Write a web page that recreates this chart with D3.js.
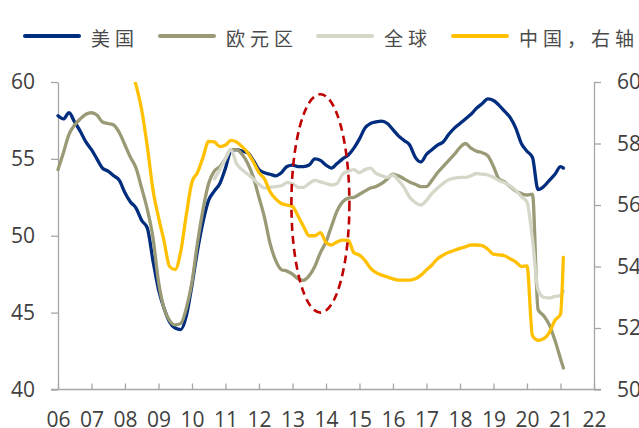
<!DOCTYPE html>
<html>
<head>
<meta charset="utf-8">
<script src="https://cdn.jsdelivr.net/npm/d3@7"></script>
<style>
  html, body { margin: 0; padding: 0; background: #fff; }
  svg { display: block; }
  .axis text { font-family: "Open Sans", "Liberation Sans", sans-serif; font-size: 21px; fill: #404040; }
  .axis line, .axis path { stroke: #a6a6a6; stroke-width: 1.3; }
  .legend text { font-family: "Noto Sans CJK SC", sans-serif; font-size: 19px; fill: #4a4a4a; letter-spacing: 5px; }
</style>
</head>
<body>
<svg id="chart" width="639" height="428"></svg>
<script>
// Monthly observations, every second month from Jan 2006, plus Feb 2021
const months = [
  "2006-01","2006-03","2006-05","2006-07","2006-09","2006-11",
  "2007-01","2007-03","2007-05","2007-07","2007-09","2007-11",
  "2008-01","2008-03","2008-05","2008-07","2008-09","2008-11",
  "2009-01","2009-03","2009-05","2009-07","2009-09","2009-11",
  "2010-01","2010-03","2010-05","2010-07","2010-09","2010-11",
  "2011-01","2011-03","2011-05","2011-07","2011-09","2011-11",
  "2012-01","2012-03","2012-05","2012-07","2012-09","2012-11",
  "2013-01","2013-03","2013-05","2013-07","2013-09","2013-11",
  "2014-01","2014-03","2014-05","2014-07","2014-09","2014-11",
  "2015-01","2015-03","2015-05","2015-07","2015-09","2015-11",
  "2016-01","2016-03","2016-05","2016-07","2016-09","2016-11",
  "2017-01","2017-03","2017-05","2017-07","2017-09","2017-11",
  "2018-01","2018-03","2018-05","2018-07","2018-09","2018-11",
  "2019-01","2019-03","2019-05","2019-07","2019-09","2019-11",
  "2020-01","2020-03","2020-05","2020-07","2020-09","2020-11",
  "2021-01","2021-02"
];

// United States (left axis)
const us = [
  57.8, 57.6, 58.0, 57.4, 56.8, 56.1, 55.6, 55.0, 54.4, 54.2,
  53.9, 53.6, 52.8, 52.2, 51.8, 51.0, 50.5, 48.4, 46.5, 45.3,
  44.4, 44.0, 43.9, 44.8, 46.8, 49.0, 50.9, 52.3, 52.9, 53.4,
  54.4, 55.5, 55.6, 55.5, 55.4, 54.9, 54.3, 54.1, 54.0, 53.9,
  54.1, 54.5, 54.6, 54.5, 54.5, 54.6, 55.0, 54.9, 54.6, 54.4,
  54.7, 55.0, 55.25, 55.7, 56.3, 57.0, 57.3, 57.4, 57.45, 57.3,
  56.9, 56.5, 56.2, 55.9, 55.1, 54.8, 55.3, 55.6, 55.9, 56.1,
  56.6, 57.0, 57.3, 57.6, 57.9, 58.3, 58.6, 58.9, 58.8, 58.5,
  58.1, 57.7, 57.0, 56.0, 55.5, 55.1, 53.0, 53.2, 53.6, 54.0,
  54.5, 54.4
];

// Euro area (left axis)
const euro = [
  54.3, 55.4, 56.6, 57.2, 57.6, 57.9, 58.0, 57.85, 57.4, 57.3,
  57.2, 56.7, 55.9, 55.1, 54.4, 53.1, 51.7, 49.9, 47.0, 45.3,
  44.5, 44.2, 44.3, 45.3, 47.0, 49.5, 51.7, 53.4, 54.2, 54.5,
  55.0, 55.6, 55.6, 55.3, 54.7, 53.8, 52.5, 51.2, 49.5, 48.4,
  47.8, 47.7, 47.5, 47.2, 47.1, 47.4, 48.0, 48.9, 49.6, 50.6,
  51.6, 52.2, 52.45, 52.5, 52.7, 52.9, 53.1, 53.2, 53.4, 53.7,
  54.0, 53.9, 53.7, 53.5, 53.35, 53.2, 53.2, 53.6, 54.1, 54.5,
  54.9, 55.3, 55.75, 56.0, 55.7, 55.5, 55.4, 55.2, 54.5, 53.7,
  53.5, 53.2, 52.9, 52.75, 52.65, 52.7, 45.2, 44.8, 44.2, 43.2,
  42.0, 41.4
];

// World (left axis)
const world = [
  null, null, null, null, null, null, null, null, null, null,
  null, null, null, null, null, null, null, null, null, null,
  null, null, null, null, null, null, null, null,
  53.7, 54.3, 55.0, 55.6, 54.7, 54.3, 54.0, 53.7, 53.35, 53.1,
  53.15, 53.2, 53.25, 53.45, 53.4, 53.15, 53.15, 53.4, 53.6, 53.5,
  53.4, 53.3, 53.4, 54.0, 54.2, 54.3, 54.1, 54.3, 54.4, 54.05,
  53.9, 53.8, 53.95, 53.6, 53.15, 52.5, 52.15, 52.0, 52.3, 52.75,
  53.1, 53.4, 53.65, 53.75, 53.8, 53.8, 53.9, 54.05, 54.0, 53.95,
  53.8, 53.6, 53.45, 53.25, 52.95, 52.55, 52.2, 49.8, 46.5, 46.0,
  45.95, 46.05, 46.1, 46.4
];

// China (right axis)
const china = [
  null, null, null, null, null, null, null, null, null, null,
  null, null, null,
  60.5, 59.9, 59.1, 57.9, 56.5, 55.6, 54.85, 54.0, 53.9, 54.5,
  55.7, 56.75, 57.05, 57.55, 58.07, 58.05, 57.9, 57.95, 58.1, 58.05,
  57.9, 57.7, 57.4, 57.05, 56.85, 56.43, 56.2, 56.05, 56.0, 55.95,
  55.65, 55.3, 55.0, 55.0, 55.1, 54.78, 54.7, 54.8, 54.86, 54.85,
  54.45, 54.37, 54.2, 53.95, 53.8, 53.72, 53.66, 53.6, 53.56, 53.56,
  53.56, 53.6, 53.72, 53.89, 54.05, 54.25, 54.37, 54.46, 54.53, 54.59,
  54.64, 54.7, 54.7, 54.68, 54.56, 54.4, 54.38, 54.35, 54.25, 54.15,
  54.0, 54.02, 51.75, 51.6, 51.65, 51.85, 52.25, 52.45, 54.3
];

const yearTicks = ["06","07","08","09","10","11","12","13","14","15","16","17","18","19","20","21","22"];
const leftTicks = [40, 45, 50, 55, 60];
const rightTicks = [50, 52, 54, 56, 58, 60];

const seriesNames = ["美国", "欧元区", "全球", "中国，右轴"];
const seriesColors = ["#002d7e", "#9a9a76", "#d5d7c9", "#ffc000"];

const parse = d3.timeParse("%Y-%m");
const dates = months.map(parse);

const svg = d3.select("#chart");
const plotLeft = 58, plotRight = 594, plotTop = 82, plotBottom = 389.5;

const x = d3.scaleTime()
  .domain([parse("2006-01"), parse("2022-01")])
  .range([plotLeft, plotRight]);
const yL = d3.scaleLinear().domain([40, 60]).range([plotBottom, plotTop]);
const yR = d3.scaleLinear().domain([50, 60]).range([plotBottom, plotTop]);

// Plot area clip (keeps the China line inside the top edge)
svg.append("defs").append("clipPath").attr("id", "plot")
  .append("rect").attr("x", 0).attr("y", plotTop).attr("width", 639).attr("height", plotBottom - plotTop + 10);

// Axes
svg.append("g").attr("class", "axis").attr("transform", `translate(${plotLeft},0)`)
  .call(d3.axisLeft(yL).tickValues(leftTicks).tickSize(7).tickSizeOuter(0).tickPadding(16));
svg.append("g").attr("class", "axis").attr("transform", `translate(${plotRight},0)`)
  .call(d3.axisRight(yR).tickValues(rightTicks).tickSize(7).tickSizeOuter(0).tickPadding(16));
const yearDates = yearTicks.map(s => d3.timeParse("%y")(s));
const gB = svg.append("g").attr("class", "axis").attr("transform", `translate(0,${plotBottom})`)
  .call(d3.axisBottom(x).tickValues(yearDates).tickFormat(d3.timeFormat("%y"))
    .tickSize(-6).tickSizeOuter(0).tickPadding(22.5));
gB.select(".domain").remove();
gB.append("line").attr("x1", plotLeft - 7).attr("x2", plotRight + 7).attr("y1", 0).attr("y2", 0)
  .attr("stroke", "#a6a6a6").attr("stroke-width", 1.3);

// Lines
const plot = svg.append("g").attr("clip-path", "url(#plot)");
const series = [
  { values: us, scale: yL },
  { values: euro, scale: yL },
  { values: world, scale: yL },
  { values: china, scale: yR }
];
series.forEach((s, i) => {
  const line = d3.line()
    .defined(d => d.v != null)
    .x(d => x(d.date))
    .y(d => s.scale(d.v))
    .curve(d3.curveMonotoneX);
  const pts = dates.map((date, j) => ({ date, v: s.values[j] }));
  plot.append("path")
    .datum(pts)
    .attr("fill", "none")
    .attr("stroke", seriesColors[i])
    .attr("stroke-width", 3.3)
    .attr("stroke-linejoin", "round")
    .attr("stroke-linecap", "round")
    .attr("d", line);
});

// Highlighted 2013-2014 period
const ellipseCenter = { date: parse("2013-11"), value: 52.2 };
const ellipseHalfWidth = 29;
const ellipseTop = 59.2, ellipseBottom = 45.0;
svg.append("ellipse")
  .attr("cx", x(ellipseCenter.date))
  .attr("cy", (yL(ellipseTop) + yL(ellipseBottom)) / 2)
  .attr("rx", ellipseHalfWidth)
  .attr("ry", (yL(ellipseBottom) - yL(ellipseTop)) / 2)
  .attr("fill", "none")
  .attr("stroke", "#c00000")
  .attr("stroke-width", 2.6)
  .attr("stroke-dasharray", "8,5");

// Legend
const legendX = [25, 160, 318, 453];
const legend = svg.append("g").attr("class", "legend");
seriesNames.forEach((name, i) => {
  const g = legend.append("g").attr("transform", `translate(${legendX[i]},36)`);
  g.append("line").attr("x1", 0).attr("x2", 54).attr("y1", 0).attr("y2", 0)
    .attr("stroke", seriesColors[i]).attr("stroke-width", 4).attr("stroke-linecap", "round");
  g.append("text").attr("x", 66).attr("y", 1).attr("dominant-baseline", "central").text(name);
});
</script>
</body>
</html>
